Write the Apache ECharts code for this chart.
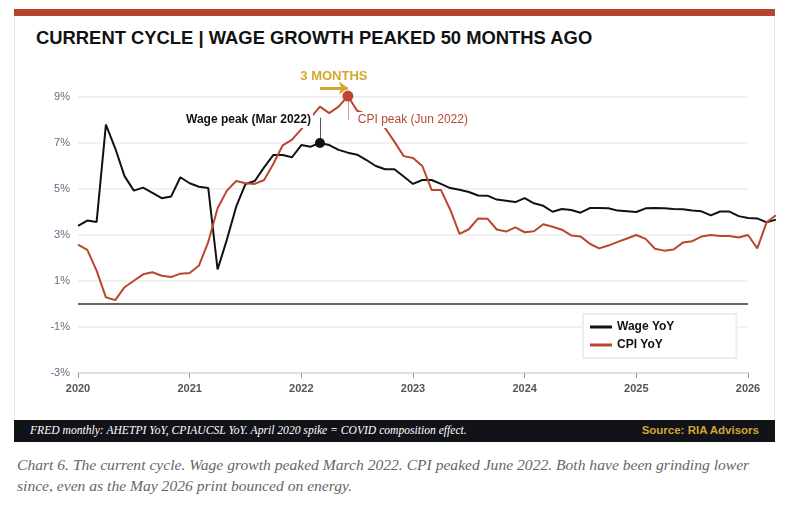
<!DOCTYPE html>
<html>
<head>
<meta charset="utf-8">
<script src="https://cdn.jsdelivr.net/npm/echarts@6/dist/echarts.min.js"></script>
<style>
  body { margin: 0; background: #fff; }
  #page { position: relative; width: 809px; height: 506px; overflow: hidden; }
  #card { position: absolute; left: 14px; top: 9px; width: 759px; height: 432px; border: 1px solid #e8e8e8; border-top: none; background: #fff; }
  #bar { position: absolute; left: 14px; top: 9px; width: 761px; height: 7px; background: #b4452f; }
  #title { position: absolute; left: 36px; top: 27px; font: bold 18.4px "Liberation Sans", Arial, sans-serif; color: #111; white-space: nowrap; }
  #foot { position: absolute; left: 14px; top: 420px; width: 761px; height: 22px; background: #111318; }
  #foot .l { position: absolute; left: 16px; top: 4px; font: italic 11.6px "Liberation Serif", "DejaVu Serif", serif; color: #fff; white-space: nowrap; }
  #foot .r { position: absolute; right: 16px; top: 4px; font: bold 11.5px "Liberation Sans", Arial, sans-serif; color: #d4a537; white-space: nowrap; }
  #caption { position: absolute; left: 17px; top: 454px; font: italic 15.6px/21px "Liberation Serif", "DejaVu Serif", serif; color: #666; white-space: nowrap; }
  #chart { position: absolute; left: 0; top: 0; width: 809px; height: 506px; }
</style>
</head>
<body>
<div id="page">
  <div id="card"></div>
  <div id="bar"></div>
  <div id="title">CURRENT CYCLE | WAGE GROWTH PEAKED 50 MONTHS AGO</div>
  <div id="foot">
    <span class="l">FRED monthly: AHETPI YoY, CPIAUCSL YoY. April 2020 spike = COVID composition effect.</span>
    <span class="r">Source: RIA Advisors</span>
  </div>
  <div id="caption">Chart 6. The current cycle. Wage growth peaked March 2022. CPI peaked June 2022. Both have been grinding lower<br>since, even as the May 2026 print bounced on energy.</div>
  <div id="chart"></div>
</div>
<script>
// monthly YoY %, starting Jan 2020
const startYear = 2020;
const wageYoY = [
  3.4, 3.63, 3.57, 7.8, 6.77, 5.56, 4.93, 5.06, 4.83, 4.6, 4.67, 5.51,
  5.25, 5.1, 5.04, 1.5, 2.8, 4.23, 5.22, 5.35, 5.94, 6.48, 6.48, 6.38,
  6.91, 6.84, 7.0, 6.91, 6.7, 6.58, 6.49, 6.26, 6.0, 5.86, 5.86, 5.54,
  5.22, 5.39, 5.39, 5.22, 5.04, 4.97, 4.87, 4.72, 4.71, 4.54, 4.49, 4.43,
  4.6, 4.38, 4.27, 4.01, 4.13, 4.09, 3.97, 4.17, 4.17, 4.16, 4.06, 4.03,
  4.0, 4.16, 4.17, 4.16, 4.13, 4.12, 4.07, 4.03, 3.85, 4.02, 4.02, 3.82,
  3.74, 3.72, 3.55, 3.67
];
const cpiYoY = [
  2.58, 2.35, 1.45, 0.29, 0.17, 0.73, 1.01, 1.29, 1.38, 1.23, 1.17, 1.32,
  1.35, 1.67, 2.7, 4.16, 4.93, 5.35, 5.25, 5.22, 5.39, 6.1, 6.9, 7.15,
  7.6, 8.1, 8.58, 8.3, 8.58, 9.04, 8.4, 8.25, 8.05, 7.65, 7.06, 6.43,
  6.35, 6.0, 4.96, 4.96, 4.1, 3.05, 3.25, 3.72, 3.71, 3.24, 3.15, 3.33,
  3.12, 3.16, 3.47, 3.36, 3.23, 2.98, 2.94, 2.62, 2.42, 2.54, 2.7, 2.85,
  3.0, 2.83, 2.4, 2.32, 2.37, 2.67, 2.73, 2.93, 3.0, 2.96, 2.96, 2.89,
  3.0, 2.42, 3.55, 3.86
];
const yearTicks = [2020, 2021, 2022, 2023, 2024, 2025, 2026];
// peaks called out in the chart: Mar 2022 (wages), Jun 2022 (CPI)
const wagePeakIdx = (2022 - startYear) * 12 + 2;
const cpiPeakIdx = (2022 - startYear) * 12 + 5;

const toPts = arr => arr.map((v, i) => [startYear + i / 12, v]);
const wagePeakX = startYear + wagePeakIdx / 12;
const cpiPeakX = startYear + cpiPeakIdx / 12;
const gold = '#d4a72c';
const red = '#b9472f';
const labelY = 8.0;

// the lines run a few months past the last gridline, so they sit on a second
// (hidden) grid with the same scale but a longer x range
const gridLeft = 78, gridRight = 61, chartW = 809;
const xMin = yearTicks[0], xMax = yearTicks[yearTicks.length - 1];
const xEnd = startYear + (Math.max(wageYoY.length, cpiYoY.length) - 1) / 12;
const plotW = chartW - gridLeft - gridRight;
const gridRight2 = chartW - gridLeft - plotW * (xEnd - xMin) / (xMax - xMin);
const yMin = -3, yMax = 10.5;

const chart = echarts.init(document.getElementById('chart'));
chart.setOption({
  animation: false,
  textStyle: { fontFamily: '"Liberation Sans", Arial, sans-serif' },
  grid: [
    { left: gridLeft, right: gridRight, top: 62.5, bottom: 133 },
    { left: gridLeft, right: gridRight2, top: 62.5, bottom: 133 }
  ],
  legend: {
    data: ['Wage YoY', 'CPI YoY'],
    orient: 'vertical',
    left: 583, top: 314,
    padding: [7, 62, 7, 7],
    itemGap: 6,
    itemWidth: 22, itemHeight: 3,
    icon: 'rect',
    backgroundColor: '#fff',
    borderColor: '#eeeeee', borderWidth: 2,
    textStyle: { fontSize: 12, fontWeight: 'bold', color: '#111' }
  },
  xAxis: [
    {
      type: 'value', gridIndex: 0,
      min: xMin, max: xMax, interval: 1,
      axisLine: { onZero: false, lineStyle: { color: '#e0e0e0', width: 2 } },
      axisTick: { show: true, length: 5, lineStyle: { color: '#999' } },
      axisLabel: { color: '#555', fontWeight: 'bold', fontSize: 11, margin: 10, formatter: v => String(v) },
      splitLine: { show: false }
    },
    { type: 'value', gridIndex: 1, min: xMin, max: xEnd, show: false }
  ],
  yAxis: [
    {
      type: 'value', gridIndex: 0,
      min: yMin, max: yMax, interval: 2,
      axisLine: { show: false },
      axisTick: { show: false },
      axisLabel: { color: '#5f6f80', fontSize: 11, margin: 8, showMaxLabel: false, formatter: v => v + '%' },
      splitLine: { showMaxLine: false, lineStyle: { color: '#ececec', width: 1.5 } }
    },
    { type: 'value', gridIndex: 1, min: yMin, max: yMax, show: false }
  ],
  series: [
    {
      name: 'Wage YoY', type: 'line', data: toPts(wageYoY),
      xAxisIndex: 1, yAxisIndex: 1,
      showSymbol: false, clip: false,
      lineStyle: { color: '#111', width: 2 }, itemStyle: { color: '#111' }
    },
    {
      name: 'CPI YoY', type: 'line', data: toPts(cpiYoY),
      xAxisIndex: 1, yAxisIndex: 1,
      showSymbol: false, clip: false,
      lineStyle: { color: red, width: 2 }, itemStyle: { color: red }
    },
    {
      name: 'notes', type: 'line', data: [], clip: false, silent: true,
      xAxisIndex: 0, yAxisIndex: 0,
      markLine: {
        silent: true, symbol: 'none', animation: false,
        label: { show: false },
        data: [
          { yAxis: 0, lineStyle: { color: '#333', width: 1.5, type: 'solid' } },
          [
            { coord: [wagePeakX, wageYoY[wagePeakIdx] + 0.2], lineStyle: { color: '#555', width: 1, type: 'solid' } },
            { coord: [wagePeakX, labelY + 0.1] }
          ],
          [
            { coord: [cpiPeakX, cpiYoY[cpiPeakIdx] - 0.2], lineStyle: { color: '#e4a092', width: 1, type: 'solid' } },
            { coord: [cpiPeakX, labelY] }
          ],
          [
            { coord: [wagePeakX, 9.39], symbol: 'none',
              lineStyle: { color: gold, width: 3, type: 'solid' },
              label: { show: true, position: 'middle', formatter: '3 MONTHS', color: gold, fontWeight: 'bold', fontSize: 13, distance: 5 } },
            { coord: [cpiPeakX, 9.39], symbol: 'arrow', symbolSize: [10, 9] }
          ]
        ]
      },
      markPoint: {
        silent: true, animation: false,
        data: [
          { coord: [wagePeakX, wageYoY[wagePeakIdx]], symbol: 'circle', symbolSize: 10,
            itemStyle: { color: '#111' }, label: { show: false } },
          { coord: [cpiPeakX, cpiYoY[cpiPeakIdx]], symbol: 'circle', symbolSize: 11,
            itemStyle: { color: '#c0472f' }, label: { show: false } },
          { coord: [wagePeakX, labelY], symbol: 'circle', symbolSize: 0,
            label: { show: true, position: 'left', distance: 7, formatter: 'Wage peak (Mar 2022)',
              color: '#111', fontWeight: 'bold', fontSize: 12, backgroundColor: '#fff', padding: [2, 2] } },
          { coord: [cpiPeakX, labelY], symbol: 'circle', symbolSize: 0,
            label: { show: true, position: 'right', distance: 8, formatter: 'CPI peak (Jun 2022)',
              color: red, fontSize: 12, backgroundColor: '#fff', padding: [2, 2] } }
        ]
      }
    }
  ]
});
</script>
</body>
</html>
